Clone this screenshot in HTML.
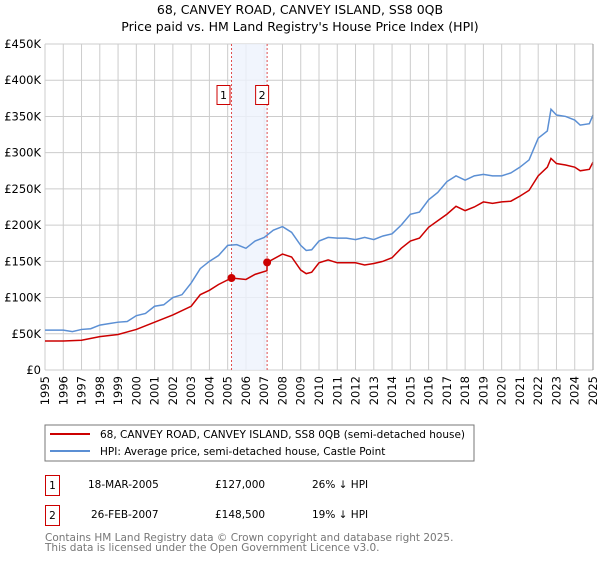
<!DOCTYPE html>
<html><head><meta charset="utf-8"><style>
body{margin:0;background:#fff;font-family:"Liberation Sans","DejaVu Sans",sans-serif;}
svg text{font-family:"DejaVu Sans","Liberation Sans",sans-serif;}
</style></head><body>
<svg width="600" height="560" viewBox="0 0 600 560" xmlns="http://www.w3.org/2000/svg" id="chart">
<text x="300" y="14" text-anchor="middle" font-size="12.5" fill="#000">68, CANVEY ROAD, CANVEY ISLAND, SS8 0QB</text>
<text x="300" y="31" text-anchor="middle" font-size="12.5" fill="#000">Price paid vs. HM Land Registry's House Price Index (HPI)</text>
<g id="grid"></g><g id="shade"></g><g id="lines"></g><g id="axes"></g>
<rect x="45" y="425" width="429" height="36" fill="#fff" stroke="#777"/>
<line x1="50" y1="434" x2="90" y2="434" stroke="#cc0000" stroke-width="2"/>
<text x="100" y="438" font-size="10.5">68, CANVEY ROAD, CANVEY ISLAND, SS8 0QB (semi-detached house)</text>
<line x1="50" y1="451" x2="90" y2="451" stroke="#5b8fd4" stroke-width="2"/>
<text x="100" y="455" font-size="10.5">HPI: Average price, semi-detached house, Castle Point</text>
<rect x="45.5" y="475.5" width="14" height="20" fill="#fff" stroke="#cc0000"/>
<text x="52.5" y="489" font-size="10.5" text-anchor="middle">1</text>
<text x="88" y="488" font-size="10.5">18-MAR-2005</text>
<text x="215" y="488" font-size="10.5">£127,000</text>
<text x="312" y="488" font-size="10.5">26% ↓ HPI</text>
<rect x="45.5" y="505.5" width="14" height="20" fill="#fff" stroke="#cc0000"/>
<text x="52.5" y="519" font-size="10.5" text-anchor="middle">2</text>
<text x="91" y="518" font-size="10.5">26-FEB-2007</text>
<text x="215" y="518" font-size="10.5">£148,500</text>
<text x="312" y="518" font-size="10.5">19% ↓ HPI</text>
<text x="45" y="541" font-size="10.5" fill="#777">Contains HM Land Registry data © Crown copyright and database right 2025.</text>
<text x="45" y="551" font-size="10.5" fill="#777">This data is licensed under the Open Government Licence v3.0.</text>
</svg>
<script>
const yTicks=[0,50,100,150,200,250,300,350,400,450];
const yTickLabels=["£0","£50K","£100K","£150K","£200K","£250K","£300K","£350K","£400K","£450K"];
const xYears=[1995,1996,1997,1998,1999,2000,2001,2002,2003,2004,2005,2006,2007,2008,2009,2010,2011,2012,2013,2014,2015,2016,2017,2018,2019,2020,2021,2022,2023,2024,2025];
const hpiT=[1995,1996,1996.5,1997,1997.5,1998,1998.5,1999,1999.5,2000,2000.5,2001,2001.5,2002,2002.5,2003,2003.5,2004,2004.5,2005,2005.5,2006,2006.5,2007,2007.5,2008,2008.5,2009,2009.3,2009.6,2010,2010.5,2011,2011.5,2012,2012.5,2013,2013.5,2014,2014.5,2015,2015.5,2016,2016.5,2017,2017.5,2018,2018.5,2019,2019.5,2020,2020.5,2021,2021.5,2022,2022.5,2022.7,2023,2023.5,2024,2024.3,2024.8,2025];
const hpiV=[55,55,53,56,57,62,64,66,67,75,78,88,90,100,104,120,140,150,158,172,173,168,178,183,193,198,190,172,165,166,178,183,182,182,180,183,180,185,188,200,215,218,235,245,260,268,262,268,270,268,268,272,280,290,320,330,360,352,350,345,338,340,352];
const redT=[1995,1996,1997,1998,1999,2000,2001,2002,2003,2003.5,2004,2004.5,2005.21,2006,2006.5,2007.15,2007.16,2008,2008.5,2009,2009.3,2009.6,2010,2010.5,2011,2012,2012.5,2013,2013.5,2014,2014.5,2015,2015.5,2016,2016.5,2017,2017.5,2018,2018.5,2019,2019.5,2020,2020.5,2021,2021.5,2022,2022.5,2022.7,2023,2023.5,2024,2024.3,2024.8,2025];
const redV=[40,40,41,46,49,56,66,76,88,104,110,118,127,125,132,137,148.5,160,156,138,133,135,148,152,148,148,145,147,150,155,168,178,182,197,206,215,226,220,225,232,230,232,233,240,248,268,280,292,285,283,280,275,277,287];
const saleT=[2005.21,2007.16];
const saleV=[127,148.5];
const saleLabels=["1","2"];
const X0=45,X1=593,Y0=370,Y1=44;
const xs=t=>X0+(t-1995)/30*(X1-X0);
const ys=v=>Y0-v/450*(Y0-Y1);
const NS="http://www.w3.org/2000/svg";
function mk(tag,attrs,parent){const e=document.createElementNS(NS,tag);for(const k in attrs)e.setAttribute(k,attrs[k]);document.getElementById(parent).appendChild(e);return e;}
yTicks.forEach((v,i)=>{
 const l=mk('line',{x1:X0,x2:X1,y1:ys(v),y2:ys(v),stroke:'#ccc','stroke-width':1},'grid');
 
 
 const t=mk('text',{x:X0-4,y:ys(v)+4,'text-anchor':'end','font-size':11.5},'axes');
 t.textContent=yTickLabels[i];
 
 
});
xYears.forEach(yr=>{
 const l=mk('line',{x1:xs(yr),x2:xs(yr),y1:Y1,y2:Y0,stroke:'#ccc','stroke-width':1},'grid');
 
 
 const t=mk('text',{x:0,y:0,'text-anchor':'end','font-size':11.5,transform:`translate(${xs(yr)+4},${Y0+6}) rotate(-90)`},'axes');
 t.textContent=yr;
 
 
});
const sh=mk('rect',{x:xs(saleT[0]),y:Y1,width:xs(saleT[1])-xs(saleT[0]),height:Y0-Y1,fill:'#eef3fc',opacity:0.8},'shade');


saleT.forEach((t,i)=>{
 const l=mk('line',{x1:xs(t),x2:xs(t),y1:Y1,y2:Y0,stroke:'#e05050','stroke-dasharray':'2,2','stroke-width':1},'shade');
 
 
 const r=mk('rect',{x:xs(t)-14.5+(i?3:0),y:85.5,width:13,height:19,fill:'#fff',stroke:'#cc0000'},'shade');
 
 
 const tx=mk('text',{x:xs(t)-8+(i?3:0),y:99,'text-anchor':'middle','font-size':11},'shade');
 tx.textContent=saleLabels[i];
 
 
});
const hp=mk('polyline',{points:hpiT.map((t,i)=>xs(t)+','+ys(hpiV[i])).join(' '),fill:'none',stroke:'#5b8fd4','stroke-width':1.5},'lines');


const rp=mk('polyline',{points:redT.map((t,i)=>xs(t)+','+ys(redV[i])).join(' '),fill:'none',stroke:'#cc0000','stroke-width':1.5},'lines');


saleT.forEach((t,i)=>{
 const c=mk('circle',{cx:xs(t),cy:ys(saleV[i]),r:4,fill:'#cc0000'},'lines');
 
 
});
const ax=mk('line',{x1:X1,x2:X1,y1:Y1,y2:Y0,stroke:'#999','stroke-width':1},'axes');


</script>
</body></html>
